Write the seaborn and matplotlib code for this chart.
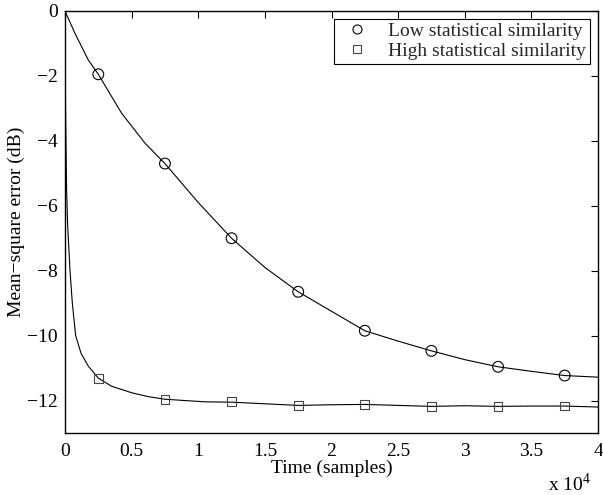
import numpy as np
import pandas as pd
import matplotlib
matplotlib.use("Agg")
import matplotlib.pyplot as plt
from matplotlib.lines import Line2D
import seaborn as sns

# ---- data (time in units of 1e4 samples) ----
low_t = [0, 0.075, 0.175, 0.25, 0.425, 0.6, 0.75, 1.0, 1.25, 1.5, 1.75,
         2.0, 2.25, 2.5, 2.75, 3.0, 3.25, 3.5, 3.75, 4.0]
low_mse = [0, -0.69, -1.51, -1.95, -3.15, -4.07, -4.7, -5.9, -7.0, -7.9, -8.65,
           -9.25, -9.85, -10.17, -10.47, -10.74, -10.96, -11.1, -11.23, -11.28]

high_t = [0, 0.004, 0.012, 0.02, 0.0375, 0.055, 0.08, 0.12, 0.175, 0.25,
          0.35, 0.5, 0.625, 0.75, 1.05, 1.25, 1.5, 1.75, 2.0, 2.25, 2.5, 2.75,
          3.0, 3.25, 3.5, 3.75, 4.0]
high_mse = [0, -3.0, -5.5, -6.6, -8.0, -9.0, -10.0, -10.54, -10.94, -11.31,
            -11.56, -11.76, -11.88, -11.96, -12.04, -12.05, -12.1, -12.15, -12.13,
            -12.12, -12.15, -12.18, -12.16, -12.18, -12.17, -12.17, -12.2]

marker_t = [0.25, 0.75, 1.25, 1.75, 2.25, 2.75, 3.25, 3.75]
low_marks = [-1.95, -4.7, -7.0, -8.65, -9.85, -10.47, -10.96, -11.23]
high_marks = [-11.31, -11.96, -12.04, -12.15, -12.12, -12.18, -12.18, -12.17]

labels = ["Low statistical similarity", "High statistical similarity"]
xticks = [0, 0.5, 1, 1.5, 2, 2.5, 3, 3.5, 4]
xtick_labels = ["0", "0.5", "1", "1.5", "2", "2.5", "3", "3.5", "4"]
yticks = [0, -2, -4, -6, -8, -10, -12]

sns.set_theme(style="white")
plt.rcParams["font.family"] = ["Liberation Serif", "DejaVu Serif"]
plt.rcParams["mathtext.fontset"] = "custom"
plt.rcParams["mathtext.rm"] = "Liberation Serif"

FS = 14

fig = plt.figure(figsize=(6.03, 4.95), dpi=100)
ax = fig.add_axes([65 / 603, 1 - 433 / 495, 533 / 603, 422 / 495])

df_low = pd.DataFrame({"t": low_t, "mse": low_mse})
df_high = pd.DataFrame({"t": high_t, "mse": high_mse})
sns.lineplot(data=df_low, x="t", y="mse", ax=ax, color="black", lw=0.8,
             estimator=None, sort=False)
sns.lineplot(data=df_high, x="t", y="mse", ax=ax, color="black", lw=0.8,
             estimator=None, sort=False)

dm_low = pd.DataFrame({"t": marker_t, "mse": low_marks})
dm_high = pd.DataFrame({"t": marker_t, "mse": high_marks})
sns.scatterplot(data=dm_low, x="t", y="mse", ax=ax, marker="o", s=60,
                facecolor="none", edgecolor="black", linewidth=0.8, zorder=3)
sns.scatterplot(data=dm_high, x="t", y="mse", ax=ax, marker="s", s=40,
                facecolor="none", edgecolor="#444444", linewidth=0.8, zorder=3)

ax.set_xlim(0, 4)
ax.set_ylim(-13, 0)
ax.set_xticks(xticks)
ax.set_xticklabels(xtick_labels)
ax.set_yticks(yticks)
ax.tick_params(direction="in", length=5, width=0.8, top=True, right=True,
               labelsize=FS, colors="black", pad=5)
ax.tick_params(axis="x", pad=7)
for sp in ax.spines.values():
    sp.set_color("black")
    sp.set_linewidth(1.0)

ax.set_xlabel("Time (samples)", fontsize=FS, color="black", labelpad=0)
ax.set_ylabel("Mean\u2212square error (dB)", fontsize=FS, color="black", labelpad=2)
fig.text(591 / 603, 1 - 484 / 495, r"x 10$^{4}$", fontsize=FS,
         ha="right", va="center", color="black")

handles = [
    Line2D([], [], ls="none", marker="o", markersize=6.5, markerfacecolor="none",
           markeredgecolor="black", markeredgewidth=0.8),
    Line2D([], [], ls="none", marker="s", markersize=5.5, markerfacecolor="none",
           markeredgecolor="#444444", markeredgewidth=0.8),
]
leg = ax.legend(handles, labels, loc="upper right", fontsize=FS, frameon=True,
                fancybox=False, framealpha=1, edgecolor="black",
                borderpad=0.2, handletextpad=0.6, labelspacing=0.1,
                handlelength=2.0, borderaxespad=0.4)
leg.get_frame().set_linewidth(0.8)

fig.savefig("out.png", dpi=100, facecolor="white")
